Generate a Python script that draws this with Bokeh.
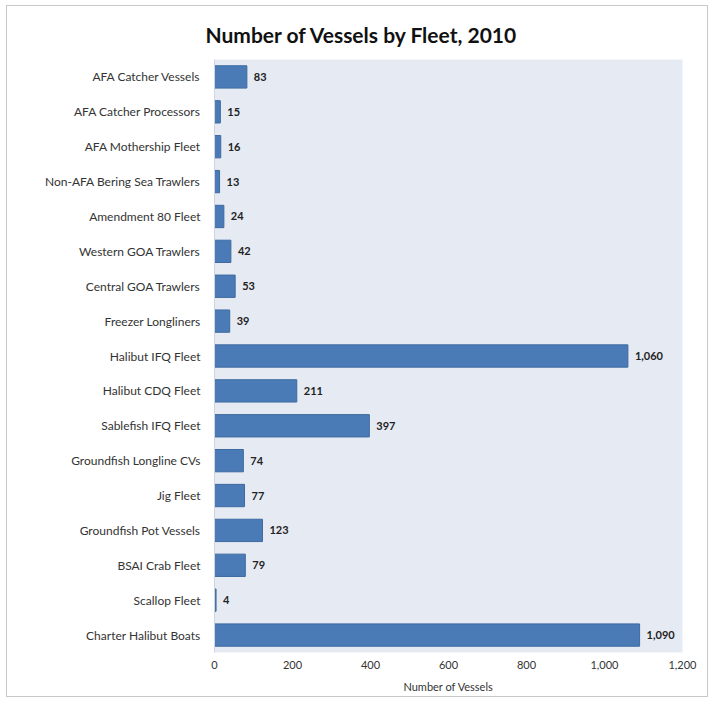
from bokeh.plotting import figure
from bokeh.models import ColumnDataSource, NumeralTickFormatter, Range1d
from bokeh.core.properties import value
from bokeh.embed import file_html
from bokeh.resources import INLINE

fleets = [
    "AFA Catcher Vessels", "AFA Catcher Processors", "AFA Mothership Fleet",
    "Non-AFA Bering Sea Trawlers", "Amendment 80 Fleet", "Western GOA Trawlers",
    "Central GOA Trawlers", "Freezer Longliners", "Halibut IFQ Fleet",
    "Halibut CDQ Fleet", "Sablefish IFQ Fleet", "Groundfish Longline CVs",
    "Jig Fleet", "Groundfish Pot Vessels", "BSAI Crab Fleet", "Scallop Fleet",
    "Charter Halibut Boats",
]
vessels = [83, 15, 16, 13, 24, 42, 53, 39, 1060, 211, 397, 74, 77, 123, 79, 4, 1090]
x_ticks = [0, 200, 400, 600, 800, 1000, 1200]

FONT = "Lato"
labels = [f"{v:,}" for v in vessels]
src = ColumnDataSource(dict(fleet=fleets, n=vessels, lab=labels))

p = figure(
    width=702, height=692,
    y_range=list(reversed(fleets)),
    x_range=Range1d(0, 1200),
    output_backend="svg", toolbar_location=None,
    title="Number of Vessels by Fleet, 2010",
    min_border_left=207, min_border_right=27, min_border_top=53, min_border_bottom=46,
)
p.styles = {"border": "1px solid #c8c8c8", "margin": "5px 0px 0px 6px"}
p.background_fill_color = "#e6ebf3"
p.border_fill_color = "white"
p.outline_line_color = None

p.title.text_font = FONT
p.title.text_font_size = "21px"
p.title.text_font_style = "bold"
p.title.text_color = "#111111"
p.title.align = "left"
p.title.offset = -9
p.title.standoff = 25

p.hbar(y="fleet", right="n", left=0, height=0.64, source=src,
       fill_color="#4a7bb7", line_color="#3e6aa0", line_width=1)

p.text(x="n", y="fleet", text="lab", source=src, x_offset=7,
       text_baseline="middle", text_align="left",
       text_font=value(FONT), text_font_size="11px", text_font_style="bold",
       text_color="#222222")

p.xgrid.grid_line_color = None
p.ygrid.grid_line_color = None

p.xaxis.ticker = x_ticks
p.xaxis.formatter = NumeralTickFormatter(format="0,0")
p.xaxis.axis_line_color = None
p.xaxis.major_tick_line_color = None
p.xaxis.minor_tick_line_color = None
p.xaxis.major_label_text_font = FONT
p.xaxis.major_label_text_font_size = "11px"
p.xaxis.major_label_text_color = "#333333"
p.xaxis.major_label_standoff = 2
p.xaxis.axis_label = "Number of Vessels"
p.xaxis.axis_label_text_font = FONT
p.xaxis.axis_label_text_font_size = "11px"
p.xaxis.axis_label_text_font_style = "normal"
p.xaxis.axis_label_text_color = "#333333"
p.xaxis.axis_label_standoff = 8

p.yaxis.axis_line_color = "#cfd5de"
p.yaxis.major_tick_line_color = None
p.yaxis.minor_tick_line_color = None
p.yaxis.major_label_text_font = FONT
p.yaxis.major_label_text_font_size = "12px"
p.yaxis.major_label_text_color = "#333333"
p.yaxis.major_label_standoff = 8

p.y_range.range_padding = 0

open("out.html", "w").write(file_html(p, INLINE))
